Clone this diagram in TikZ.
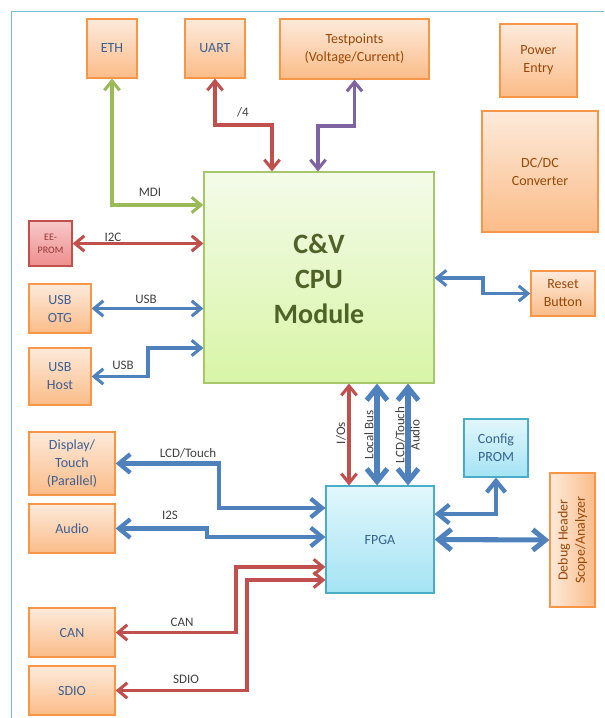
\documentclass[tikz,border=0pt]{standalone}
\usepackage{fontspec}
\setmainfont{Carlito}
\usetikzlibrary{arrows.meta}
\definecolor{obord}{HTML}{F79646}
\definecolor{otop}{HTML}{FDEADB}
\definecolor{obot}{HTML}{FBBC88}
\definecolor{otxtblue}{HTML}{3E5F90}
\definecolor{otxtbrown}{HTML}{984807}
\definecolor{rbord}{HTML}{C0504D}
\definecolor{rtop}{HTML}{F8C8C8}
\definecolor{rbot}{HTML}{EE8E8E}
\definecolor{rtxt}{HTML}{943634}
\definecolor{gbord}{HTML}{A6C86A}
\definecolor{gtop}{HTML}{F4FBE9}
\definecolor{gbot}{HTML}{D8F5A6}
\definecolor{gtxt}{HTML}{4F6228}
\definecolor{cbord}{HTML}{4BACC6}
\definecolor{ctop}{HTML}{E2F7FC}
\definecolor{cbot}{HTML}{A4E3F4}
\definecolor{ctxt}{HTML}{35628F}
\definecolor{ablue}{HTML}{4F81BD}
\definecolor{ared}{HTML}{C0504D}
\definecolor{agreen}{HTML}{9BBB59}
\definecolor{apurple}{HTML}{8064A2}
\definecolor{lbl}{HTML}{404040}
\definecolor{frm}{HTML}{78BCD6}
\newcommand{\boxfont}{\fontsize{10.5}{13.5}\selectfont}
\newcommand{\lblfont}{\fontsize{9.75}{11.5}\selectfont}
\begin{document}
\begin{tikzpicture}[x=0.75pt,y=-0.75pt,
  sz/.style 2 args={minimum width=#1*0.75pt, minimum height=#2*0.75pt},
  basebox/.style={line width=0.9pt, inner sep=0pt, align=center},
  obox/.style={basebox, draw=obord, top color=otop, bottom color=obot, text=otxtblue, font=\boxfont},
  oboxb/.style={obox, text=otxtbrown},
  oboxside/.style={basebox, draw=obord, left color=otop, right color=obot},
  rbox/.style={basebox, draw=rbord, top color=rtop, bottom color=rbot, text=rtxt, font=\fontsize{7.5}{10}\selectfont},
  gbox/.style={basebox, draw=gbord, top color=gtop, bottom color=gbot},
  cbox/.style={basebox, draw=cbord, top color=ctop, bottom color=cbot, text=ctxt, font=\boxfont},
  lab/.style={inner sep=0pt, text=lbl, font=\lblfont, align=center},
  thinarr/.style={line width=2.3pt, {Straight Barb[length=7pt,width=11.5pt]}-{Straight Barb[length=7pt,width=11.5pt]}},
  thickarr/.style={line width=3.2pt, {Straight Barb[length=8.5pt,width=14pt]}-{Straight Barb[length=8.5pt,width=14pt]}},
  thickerarr/.style={line width=3.8pt, {Straight Barb[length=9.5pt,width=15.5pt]}-{Straight Barb[length=9.5pt,width=15.5pt]}},
]
\useasboundingbox (0,0) rectangle (604,718);
% frame
\draw[frm, line width=1.2pt] (11.5,718) -- (11.5,11.5) -- (604,11.5);

% top boxes
\node[obox, sz={50}{59}] (eth) at (112,48.5) {ETH};
\node[obox, sz={60}{59}] (uart) at (215,48.5) {UART};
\node[oboxb, sz={149}{60}] (tp) at (354.5,49) {Testpoints\\(Voltage/Current)};
\node[oboxb, sz={77}{73}] (power) at (538.5,60.5) {Power\\Entry};
\node[oboxb, sz={116}{121}] (dcdc) at (540,171.5) {DC/DC\\Converter};

% CPU
\node[gbox, sz={230}{211}] (cpu) at (319,277.5) {};
\node[inner sep=0pt, align=center, text=gtxt, font=\fontsize{21}{26}\selectfont\bfseries] (cputxt) at (319,279) {C\&V\\CPU\\Module};

% left boxes
\node[rbox, sz={43}{45}] (ee) at (50.5,243.5) {EE-\\PROM};
\node[obox, sz={62}{49}] (otg) at (60,308.5) {USB\\OTG};
\node[obox, sz={62}{57}] (host) at (60,376.5) {USB\\Host};
\node[oboxb, sz={64}{45}] (reset) at (563,293.5) {Reset\\Button};

% FPGA area
\node[cbox, sz={108}{107}] (fpga) at (380,539.5) {FPGA};
\node[cbox, sz={64}{58}] (prom) at (496,448) {Config\\PROM};
\node[oboxside, sz={45}{134}] (dbg) at (572.5,540) {};
\node[rotate=90, inner sep=0pt, align=center, text=otxtbrown, font=\fontsize{10.5}{12.8}\selectfont] (dbgtxt) at (dbg.center) {Debug Header\\Scope/Analyzer};

\node[obox, sz={86}{63}] (disp) at (72,463.5) {Display/\\Touch\\(Parallel)};
\node[obox, sz={86}{49}] (aud) at (72,528.5) {Audio};
\node[obox, sz={86}{49}] (can) at (72,632.5) {CAN};
\node[obox, sz={86}{49}] (sdio) at (72,690.5) {SDIO};

% helper coordinates
\coordinate (k1) at (112,205);
\coordinate (k2) at (272,125);
\coordinate (k3) at (318,126);
\coordinate (k4) at (148,348);
\coordinate (k5) at (483,278);
\coordinate (k6) at (349,0);
\coordinate (k7) at (377,0);
\coordinate (k8) at (408,0);
\coordinate (k9) at (0,514);
\coordinate (k10) at (219,508);
\coordinate (k11) at (207,537);
\coordinate (k12) at (236,567);
\coordinate (k13) at (247,580);

% connectors to CPU
\draw[thinarr, agreen] (eth.south) |- (k1 -| cpu.west);
\draw[thinarr, ared] (uart.south) |- (k2) -- (k2 |- cpu.north);
\draw[thinarr, apurple] (tp.south) |- (k3) -- (k3 |- cpu.north);
\draw[thinarr, ared] (ee.east) -- (ee.east -| cpu.west);
\draw[thinarr, ablue] (otg.east) -- (otg.east -| cpu.west);
\draw[thinarr, ablue] (host.east) -| (k4) -- (k4 -| cpu.west);
\draw[thinarr, ablue] (k5 -| cpu.east) -- (k5) |- (reset.west);

% CPU - FPGA
\draw[thinarr, ared] (k6 |- cpu.south) -- (k6 |- fpga.north);
\draw[thickerarr, ablue] (k7 |- cpu.south) -- (k7 |- fpga.north);
\draw[thickerarr, ablue] (k8 |- cpu.south) -- (k8 |- fpga.north);

% FPGA right
\draw[thickarr, ablue] (k9 -| fpga.east) -| (prom.south);
\draw[thickerarr, ablue] (fpga.east) -- (dbg.west);

% FPGA left
\draw[thickarr, ablue] (disp.east) -| (k10) -- (k10 -| fpga.west);
\draw[thickarr, ablue] (aud.east) -| (k11) -- (k11 -| fpga.west);
\draw[thinarr, ared] (k12 -| fpga.west) -- (k12) |- (can.east);
\draw[thinarr, ared] (k13 -| fpga.west) -- (k13) |- (sdio.east);

% labels
\node[lab] (lmdi) at (150,192) {MDI};
\node[lab] (l4) at (243,112) {/4};
\node[lab] (li2c) at (113,237) {I2C};
\node[lab] (lusb1) at (146,299) {USB};
\node[lab] (lusb2) at (123,365) {USB};
\node[lab, rotate=90] (lios) at (341,433) {I/Os};
\node[lab, rotate=90] (llb) at (369,435) {Local Bus};
\node[lab, rotate=90] (llcd) at (407.5,435) {LCD/Touch\\Audio};
\node[lab] (llcd2) at (188,453) {LCD/Touch};
\node[lab] (li2s) at (170,515) {I2S};
\node[lab] (lcan) at (182,622) {CAN};
\node[lab] (lsdio) at (186,679) {SDIO};
\end{tikzpicture}
\end{document}
